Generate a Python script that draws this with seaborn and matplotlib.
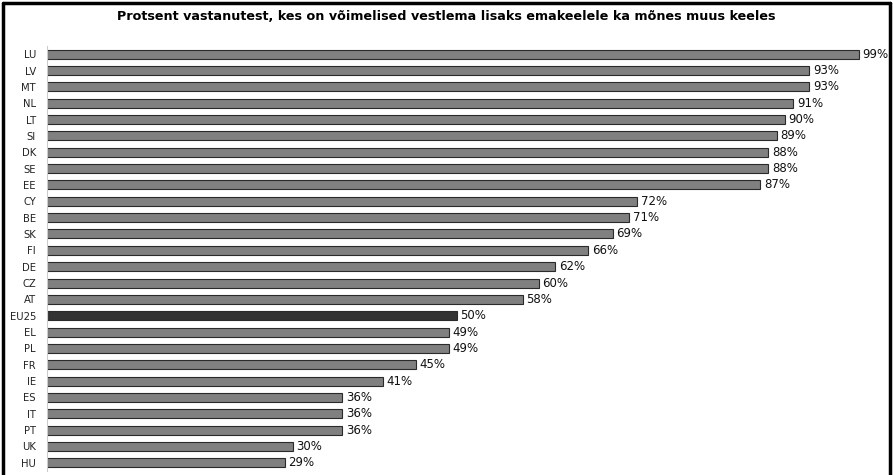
import matplotlib
matplotlib.use("Agg")
import matplotlib.pyplot as plt
import seaborn as sns
import pandas as pd
from matplotlib.lines import Line2D

countries = ["LU", "LV", "MT", "NL", "LT", "SI", "DK", "SE", "EE", "CY", "BE", "SK", "FI",
             "DE", "CZ", "AT", "EU25", "EL", "PL", "FR", "IE", "ES", "IT", "PT", "UK", "HU"]
values = [99, 93, 93, 91, 90, 89, 88, 88, 87, 72, 71, 69, 66,
          62, 60, 58, 50, 49, 49, 45, 41, 36, 36, 36, 30, 29]
title = "Protsent vastanutest, kes on võimelised vestlema lisaks emakeelele ka mõnes muus keeles"

df = pd.DataFrame({"country": countries, "value": values})
df["group"] = ["eu" if c == "EU25" else "cty" for c in countries]

sns.set_style("white")
plt.rcParams["font.family"] = ["DejaVu Sans"]

fig = plt.figure(figsize=(8.93, 4.75), dpi=100)
ax = fig.add_axes([47/893, 1 - 471/475, (889-47)/893, (471-46)/475])

sns.barplot(data=df, y="country", x="value", hue="group", order=countries,
            palette={"cty": "#808080", "eu": "#333333"}, dodge=False, legend=False,
            width=0.55, edgecolor="#2a2a2a", linewidth=0.8, ax=ax)

ax.set_xlim(0, 102.7)
ax.set_ylim(len(countries) - 0.5, -0.5)
ax.set_xlabel("")
ax.set_ylabel("")
ax.set_xticks([])
for s in ["top", "right", "bottom"]:
    ax.spines[s].set_visible(False)
ax.spines["left"].set_color("#cccccc")
ax.spines["left"].set_linewidth(0.8)
ax.tick_params(axis="y", length=0, labelsize=7.2, pad=8, colors="#222222")

# minor ticks between categories
ax.set_yticks([i + 0.5 for i in range(-1, len(countries))], minor=True)
ax.tick_params(axis="y", which="minor", length=3, color="#cccccc", width=0.8)

for i, v in enumerate(values):
    ax.text(v + 0.45, i, f"{v}%", va="center", ha="left", fontsize=8.5, color="#111111")

fig.text(0.5, 1 - 16/475, title, ha="center", va="center", fontsize=9.2, fontweight="bold", color="black")

# outer frame (left, top, right)
fig.add_artist(Line2D([3/893, 3/893], [0, 1 - 3/475], transform=fig.transFigure, color="black", lw=2.5))
fig.add_artist(Line2D([3/893, 890/893], [1 - 3/475, 1 - 3/475], transform=fig.transFigure, color="black", lw=2.5))
fig.add_artist(Line2D([890/893, 890/893], [0, 1 - 3/475], transform=fig.transFigure, color="black", lw=2.5))

fig.savefig("out.png", dpi=100)
